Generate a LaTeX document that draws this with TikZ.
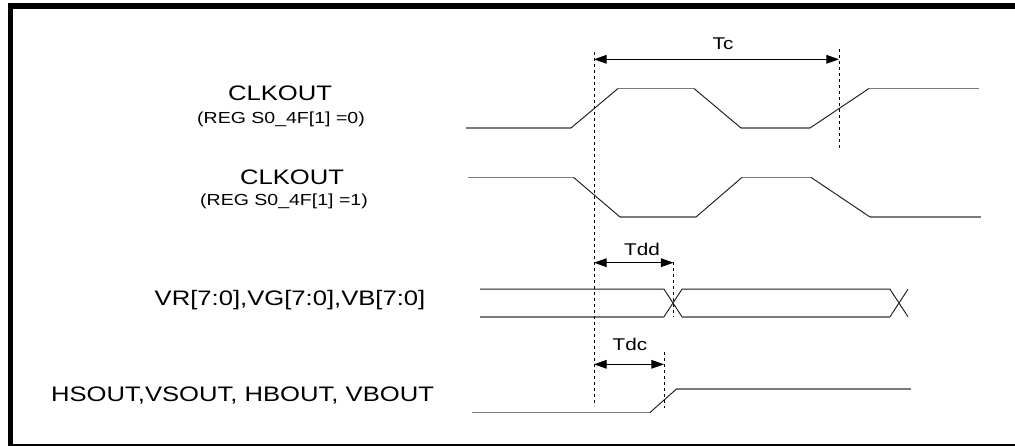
\documentclass[tikz,border=0pt]{standalone}
\usepackage{fontspec}
\setmainfont{Liberation Sans}[FakeStretch=1.22]
\usepackage{tikz}
\usetikzlibrary{arrows.meta}
\definecolor{wavegrey}{HTML}{7A7A7A}
\definecolor{wavedark}{HTML}{1A1A1A}
\newcommand{\signamefont}{\fontsize{15.75}{18}\selectfont}
\newcommand{\regfont}{\fontsize{12}{14}\selectfont}
\newcommand{\timefont}{\fontsize{12.75}{15}\selectfont}
\tikzset{
  wavelevel/.style = {draw=wavegrey, line width=1.1pt},
  waveedge/.style  = {draw=wavedark, line width=0.7pt},
  dashline/.style  = {draw=black, line width=0.6pt, dash pattern=on 2.5pt off 2pt},
  dimarrow/.style  = {{Triangle[length=9.5pt,width=6.5pt]}-{Triangle[length=9.5pt,width=6.5pt]},
                      line width=0.8pt},
  signame/.style   = {font=\signamefont, anchor=base, inner sep=0pt},
  regname/.style   = {font=\regfont, anchor=base, inner sep=0pt},
  timename/.style  = {font=\timefont, anchor=base, inner sep=0pt},
}

\begin{document}
\begin{tikzpicture}[x=0.75pt, y=-0.75pt]
  \useasboundingbox (0,0) rectangle (1015,446);
  % frame
  \fill[black] (8,3) rectangle (1015,9);
  \fill[black] (8,3) rectangle (13,446);
  \fill[black] (8,444) rectangle (1015,446);

  % labels
  \node[signame] (clk0) at (280,100.5) {CLKOUT};
  \node[regname] (reg0) at (281,123.3) {(REG S0\_4F[1] =0)};
  \node[signame] (clk1) at (292,184.3) {CLKOUT};
  \node[regname] (reg1) at (284,205) {(REG S0\_4F[1] =1)};
  \node[signame] (bus)  at (290,305) {VR[7:0],VG[7:0],VB[7:0]};
  \node[signame] (sync) at (242.5,401.7) {HSOUT,VSOUT, HBOUT, VBOUT};

  % CLKOUT, S0_4F[1]=0
  \draw[wavelevel] (466,128) -- (571,128) (618,88.5) -- (694,88.5)
                   (741,128) -- (810,128) (869,88.5) -- (979,88.5);
  \draw[waveedge] (571,128) -- (618,88.5) (694,88.5) -- (741,128) (810,128) -- (869,88.5);

  % CLKOUT, S0_4F[1]=1
  \draw[wavelevel] (468,177.4) -- (573.6,177.4) (620,217) -- (696,217)
                   (742,177.4) -- (811,177.4) (870,217) -- (981,217);
  \draw[waveedge] (573.6,177.4) -- (620,217) (696,217) -- (742,177.4) (811,177.4) -- (870,217);

  % data bus
  \draw[waveedge] (480,289.2) -- (664,289.2) -- (682,316.8)
                  (664,316.8) -- (682,289.2) -- (890,289.2) -- (908,316.8)
                  (890,316.8) -- (908,289.2);
  \draw[wavelevel] (480,316.8) -- (664,316.8) (682,316.8) -- (890,316.8);

  % sync outputs
  \draw[wavelevel, line width=1.4pt] (472,412.5) -- (650,412.5) (676,389.4) -- (911,389.4);
  \draw[waveedge] (650,412.5) -- (676,389.4);

  % timing references
  \coordinate (ref) at (594,52);
  \draw[dashline] (ref) -- (594,406);
  \draw[dashline] (839,49) -- (839,149);
  \draw[dashline] (673.5,262) -- (673.5,317);
  \draw[dashline] (664,352) -- (664,408);

  \draw[dimarrow] (594,59.3) -- (839,59.3);
  \node[timename] (tc) at (723,50) {Tc};
  \draw[dimarrow] (594,262.7) -- (673.5,262.7);
  \node[timename] (tdd) at (642,255) {Tdd};
  \draw[dimarrow] (594,364.3) -- (664,364.3);
  \node[timename] (tdc) at (630,350) {Tdc};
\end{tikzpicture}
\end{document}
